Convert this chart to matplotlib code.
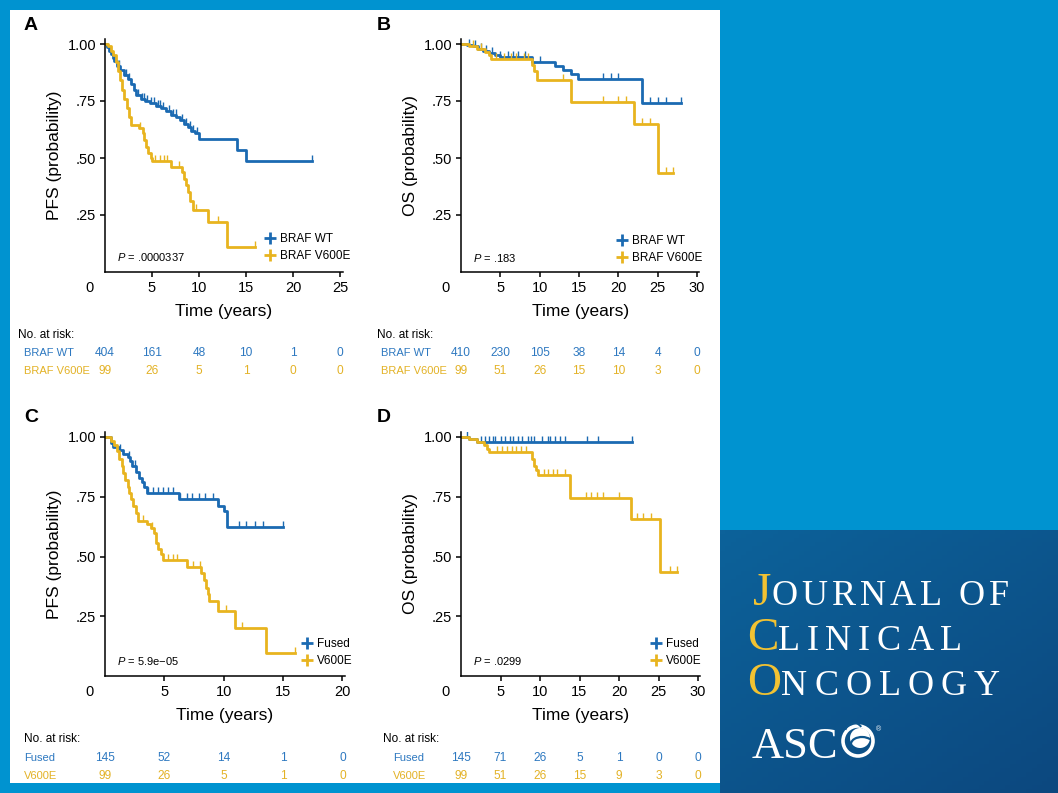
import numpy as np
import matplotlib
matplotlib.use("Agg")
import matplotlib.pyplot as plt
from matplotlib import transforms
from matplotlib.lines import Line2D
from matplotlib.patches import Rectangle, Circle, Arc

W, H = 1058, 793

BLUE = "#1b6ab2"
GOLD = "#e8b41f"
TXT_BLUE = "#2d78c0"
TXT_GOLD = "#e3b226"
BG_BLUE = "#0093d0"

# ---------------- data ----------------
# A: PFS, BRAF WT vs V600E
a_wt_t = [0, 0.2, 0.4, 0.6, 0.8, 1.0, 1.3, 1.6, 2.0, 2.4, 2.8, 3.1, 3.3, 3.8, 4.3, 4.8,
          5.4, 6.0, 6.5, 7.0, 7.6, 8.0, 8.4, 8.8, 9.2, 9.6, 10.0, 14.0, 15.0]
a_wt_s = [1.0, 0.985, 0.97, 0.955, 0.94, 0.925, 0.905, 0.885, 0.865, 0.845, 0.825, 0.80,
          0.775, 0.76, 0.75, 0.74, 0.73, 0.72, 0.705, 0.69, 0.68, 0.665, 0.65, 0.635, 0.62,
          0.61, 0.585, 0.535, 0.485]
a_wt_end = 22.0
a_wt_cens = [1.1, 1.5, 2.2, 2.6, 3.5, 3.9, 4.1, 4.5, 4.9, 5.2, 5.6, 5.9, 6.2, 6.8, 7.2,
             7.5, 8.2, 8.6, 9.0, 9.4, 9.8, 22.0]
a_mut_t = [0, 0.3, 0.6, 0.9, 1.2, 1.4, 1.6, 1.8, 2.0, 2.3, 2.6, 2.8, 3.6, 4.0, 4.2, 4.4,
           4.6, 4.9, 5.0, 7.0, 8.2, 8.4, 8.6, 8.8, 9.0, 9.4, 11.0, 13.0]
a_mut_s = [1.0, 0.99, 0.97, 0.95, 0.92, 0.88, 0.84, 0.80, 0.76, 0.72, 0.68, 0.645, 0.63,
           0.61, 0.58, 0.55, 0.52, 0.50, 0.485, 0.46, 0.44, 0.41, 0.38, 0.35, 0.31, 0.272,
           0.22, 0.11]
a_mut_end = 16.0
a_mut_cens = [3.7, 5.3, 5.8, 6.3, 6.6, 7.9, 9.7, 12.0, 16.0]

# B: OS, BRAF WT vs V600E
b_wt_t = [0, 0.8, 1.5, 2.2, 2.8, 3.5, 4.3, 5.0, 9.0, 12.0, 13.0, 14.0, 14.9, 23.0]
b_wt_s = [1.0, 0.995, 0.99, 0.98, 0.97, 0.96, 0.95, 0.945, 0.922, 0.905, 0.885, 0.867,
          0.847, 0.743]
b_wt_end = 28.0
b_wt_cens = [1.0, 1.8, 2.5, 3.2, 4.0, 5.0, 6.0, 6.6, 7.3, 8.1, 10.0, 18.0, 19.0, 20.0,
             24.0, 25.0, 26.0, 28.0]
b_mut_t = [0, 1.0, 2.0, 3.0, 3.5, 3.8, 9.0, 9.3, 9.7, 14.0, 22.0, 25.0]
b_mut_s = [1.0, 0.99, 0.98, 0.965, 0.95, 0.935, 0.91, 0.88, 0.84, 0.745, 0.65, 0.435]
b_mut_end = 27.0
b_mut_cens = [1.5, 2.5, 4.5, 5.5, 6.3, 7.0, 8.0, 8.5, 13.0, 18.0, 20.0, 21.0, 23.0, 24.0,
              26.0, 27.0]

# C: PFS, Fused vs V600E
c_fu_t = [0, 0.5, 0.7, 1.2, 1.5, 1.9, 2.1, 2.3, 2.6, 2.9, 3.1, 3.3, 3.5, 6.2, 9.5, 10.0, 10.25]
c_fu_s = [1.0, 0.975, 0.96, 0.945, 0.93, 0.915, 0.90, 0.88, 0.855, 0.83, 0.81, 0.79,
          0.765, 0.742, 0.71, 0.69, 0.623]
c_fu_end = 15.0
c_fu_cens = [1.3, 2.0, 2.5, 3.6, 4.05, 4.5, 4.9, 5.3, 5.75, 6.3, 6.9, 7.3, 7.9, 8.4, 9.1,
             9.55, 11.3, 11.9, 12.6, 13.3, 15.0]
c_mut_t = [0, 0.5, 0.8, 1.0, 1.2, 1.4, 1.5, 1.7, 1.9, 2.0, 2.2, 2.4, 2.6, 2.8, 3.5, 3.9,
           4.1, 4.3, 4.5, 4.7, 4.9, 6.9, 8.1, 8.3, 8.5, 8.7, 8.8, 9.5, 10.96, 13.55]
c_mut_s = [1.0, 0.985, 0.965, 0.94, 0.91, 0.88, 0.85, 0.82, 0.79, 0.765, 0.74, 0.71, 0.68,
           0.65, 0.635, 0.62, 0.60, 0.555, 0.53, 0.51, 0.485, 0.456, 0.43, 0.40, 0.37,
           0.345, 0.314, 0.272, 0.20, 0.098]
c_mut_end = 16.0
c_mut_cens = [3.2, 4.0, 5.3, 5.7, 6.1, 7.4, 8.0, 10.2, 11.5, 16.0]

# D: OS, Fused vs V600E
d_fu_t = [0, 1.0, 2.0]
d_fu_s = [1.0, 0.99, 0.979]
d_fu_end = 21.6
d_fu_cens = [0.8, 2.5, 3.0, 3.5, 4.0, 4.3, 5.0, 5.6, 6.2, 6.6, 7.2, 7.7, 8.5, 8.9, 9.2,
             10.2, 11.0, 11.3, 11.9, 12.5, 13.2, 15.9, 17.3, 21.6]
d_mut_t = [0, 1.0, 2.0, 2.9, 3.3, 3.6, 9.0, 9.3, 9.5, 9.8, 13.8, 21.5, 25.2]
d_mut_s = [1.0, 0.99, 0.98, 0.965, 0.95, 0.937, 0.91, 0.88, 0.86, 0.84, 0.746, 0.655, 0.435]
d_mut_end = 27.4
d_mut_cens = [4.5, 5.2, 5.8, 6.4, 7.0, 7.6, 8.2, 10.5, 11.0, 11.6, 12.2, 13.2, 15.8, 16.5,
              17.2, 18.0, 20.0, 22.3, 23.0, 24.0, 26.5, 27.4]

# numbers at risk
a_risk_t = [0, 5, 10, 15, 20, 25]
a_risk_wt = [404, 161, 48, 10, 1, 0]
a_risk_mut = [99, 26, 5, 1, 0, 0]
b_risk_t = [0, 5, 10, 15, 20, 25, 30]
b_risk_wt = [410, 230, 105, 38, 14, 4, 0]
b_risk_mut = [99, 51, 26, 15, 10, 3, 0]
c_risk_t = [0, 5, 10, 15, 20]
c_risk_fu = [145, 52, 14, 1, 0]
c_risk_mut = [99, 26, 5, 1, 0]
d_risk_t = [0, 5, 10, 15, 20, 25, 30]
d_risk_fu = [145, 71, 26, 5, 1, 0, 0]
d_risk_mut = [99, 51, 26, 15, 9, 3, 0]

plt.rcParams["font.family"] = ["Liberation Sans", "DejaVu Sans"]
plt.rcParams["mathtext.fontset"] = "custom"
plt.rcParams["mathtext.rm"] = "Liberation Sans"
plt.rcParams["mathtext.it"] = "Liberation Sans:italic"


def fx(px):
    return px / W


def fy(py):
    return 1 - py / H


def km(ax, t, s, t_end, cens, color):
    ax.step(list(t) + [t_end], list(s) + [s[-1]], where="post", color=color, lw=2.0)
    cy = [s[np.searchsorted(t, c, side="right") - 1] for c in cens]
    ax.plot(cens, cy, ls="none", marker=2, ms=4.5, mew=1.0, color=color)


fig = plt.figure(figsize=(W / 100, H / 100), dpi=100)
fig.patch.set_facecolor(BG_BLUE)
fig.patches.append(Rectangle((fx(10), fy(783)), fx(710), 773 / H, transform=fig.transFigure,
                             facecolor="white", edgecolor="none", zorder=-5))

# panel layout in px
panels = [
    dict(letter="A", lx=24, ly=25, left=105, bottom=272, ppy=9.4, ppu=228, xmax=25.3,
         xt=[5, 10, 15, 20, 25], ylab="PFS (probability)", pval=".0000337",
         names=["BRAF WT", "BRAF V600E"]),
    dict(letter="B", lx=377, ly=25, left=461, bottom=272, ppy=7.87, ppu=228, xmax=30.3,
         xt=[5, 10, 15, 20, 25, 30], ylab="OS (probability)", pval=".183",
         names=["BRAF WT", "BRAF V600E"]),
    dict(letter="C", lx=24, ly=418, left=105, bottom=676, ppy=11.87, ppu=239, xmax=20.2,
         xt=[5, 10, 15, 20], ylab="PFS (probability)", pval="5.9e\u221205",
         names=["Fused", "V600E"]),
    dict(letter="D", lx=377, ly=418, left=461, bottom=676, ppy=7.9, ppu=239, xmax=30.2,
         xt=[5, 10, 15, 20, 25, 30], ylab="OS (probability)", pval=".0299",
         names=["Fused", "V600E"]),
]
curves = [
    [(a_wt_t, a_wt_s, a_wt_end, a_wt_cens), (a_mut_t, a_mut_s, a_mut_end, a_mut_cens)],
    [(b_wt_t, b_wt_s, b_wt_end, b_wt_cens), (b_mut_t, b_mut_s, b_mut_end, b_mut_cens)],
    [(c_fu_t, c_fu_s, c_fu_end, c_fu_cens), (c_mut_t, c_mut_s, c_mut_end, c_mut_cens)],
    [(d_fu_t, d_fu_s, d_fu_end, d_fu_cens), (d_mut_t, d_mut_s, d_mut_end, d_mut_cens)],
]
risks = [
    (a_risk_t, a_risk_wt, a_risk_mut),
    (b_risk_t, b_risk_wt, b_risk_mut),
    (c_risk_t, c_risk_fu, c_risk_mut),
    (d_risk_t, d_risk_fu, d_risk_mut),
]
# text positions in px: header x, label x, header y, row ys, legend marker x/y, p-value x/y
text_pos = [
    dict(hx=18, rx=24, hy=335, r1=353, r2=371, lgx=270, lgy=238, px=117, py=257),
    dict(hx=377, rx=381, hy=335, r1=353, r2=371, lgx=622, lgy=240, px=473, py=258),
    dict(hx=24, rx=24, hy=739, r1=758, r2=776, lgx=307, lgy=643, px=117, py=661),
    dict(hx=383, rx=393, hy=739, r1=758, r2=776, lgx=656, lgy=643, px=473, py=661),
]

for p, cv, rk, tp in zip(panels, curves, risks, text_pos):
    ymax = 1.022
    wpx = p["xmax"] * p["ppy"]
    hpx = ymax * p["ppu"]
    ax = fig.add_axes([fx(p["left"]), fy(p["bottom"]), wpx / W, hpx / H])
    ax.set_facecolor("none")
    for (t, s, te, cs), col in zip(cv, [BLUE, GOLD]):
        km(ax, t, s, te, cs, col)
    ax.set_xlim(0, p["xmax"])
    ax.set_ylim(0, ymax)
    for sp in ["top", "right"]:
        ax.spines[sp].set_visible(False)
    for sp in ["left", "bottom"]:
        ax.spines[sp].set_linewidth(1.1)
    ax.set_xticks(p["xt"])
    ax.set_xticklabels([str(v) for v in p["xt"]])
    ax.set_yticks([0.25, 0.5, 0.75, 1.0])
    ax.set_yticklabels([".25", ".50", ".75", "1.00"])
    ax.tick_params(length=3.8, width=1.1, labelsize=10.5, pad=2.5)
    ax.set_ylabel(p["ylab"], fontsize=12.5)
    ax.yaxis.set_label_coords(-43 / wpx, 0.5)
    ax.set_xlabel("Time (years)", fontsize=12.5)
    ax.xaxis.set_label_coords(0.5, -32 / hpx)
    # origin label
    fig.text(fx(p["left"] - 15), fy(p["bottom"] + 16), "0", fontsize=10.5,
             ha="center", va="center")
    fig.text(fx(p["lx"]), fy(p["ly"]), p["letter"], fontsize=14, fontweight="bold",
             ha="left", va="center")

    # legend
    handles = [Line2D([], [], color=c, marker="+", ls="none", ms=9, mew=2)
               for c in [BLUE, GOLD]]
    ax.legend(handles, p["names"], loc="center left", frameon=False, fontsize=8.5,
              handlelength=1.0, handletextpad=0.35, labelspacing=0.45,
              borderpad=0, borderaxespad=0,
              bbox_to_anchor=((tp["lgx"] - 6 - p["left"]) / wpx,
                              (p["bottom"] - tp["lgy"] - 9.5) / hpx))
    ax.text((tp["px"] - p["left"]) / wpx, (p["bottom"] - tp["py"]) / hpx,
            "$\\it{P}$ = " + p["pval"], transform=ax.transAxes, fontsize=8,
            ha="left", va="center")

    # numbers at risk
    fig.text(fx(tp["hx"]), fy(tp["hy"]), "No. at risk:", fontsize=8.5, ha="left",
             va="center")
    blend = transforms.blended_transform_factory(ax.transData, fig.transFigure)
    rt, r1, r2 = rk
    for vals, ry, col, nm in [(r1, tp["r1"], TXT_BLUE, p["names"][0]),
                              (r2, tp["r2"], TXT_GOLD, p["names"][1])]:
        fig.text(fx(tp["rx"]), fy(ry), nm, fontsize=8.0, color=col, ha="left", va="center")
        for tx, v in zip(rt, vals):
            fig.text(tx, fy(ry), str(v), transform=blend, fontsize=8.6, color=col,
                     ha="center", va="center")

# ---------------- journal box ----------------
lax = fig.add_axes([fx(720), 0, 338 / W, 263 / H])
lax.set_xlim(720, 1058)
lax.set_ylim(793, 530)
lax.axis("off")
gy, gx = np.mgrid[0:1:64j, 0:1:64j]
g = 0.55 * gy + 0.45 * gx
c0 = np.array([0x0d, 0x62, 0x9a]) / 255
c1 = np.array([0x0c, 0x48, 0x7f]) / 255
img = c0[None, None, :] * (1 - g[..., None]) + c1[None, None, :] * g[..., None]
lax.imshow(img, extent=(720, 1058, 793, 530), aspect="auto", zorder=0)

LOGO_GOLD = "#f2c232"
SERIF = ["Liberation Serif", "DejaVu Serif"]
renderer = fig.canvas.get_renderer()


def caps_line(x, y, first, rest, x_end):
    t = lax.text(x, y, first, fontsize=34, color=LOGO_GOLD, family=SERIF, va="baseline")
    start = x + t.get_window_extent(renderer).width
    small = [lax.text(0, y, ch, fontsize=26, color="white", family=SERIF, va="baseline")
             for ch in rest]
    widths = [s.get_window_extent(renderer).width for s in small]
    track = (x_end - start - sum(widths)) / (len(rest) - 1)
    for s, w in zip(small, widths):
        s.set_x(start)
        start += w + track


caps_line(753, 605, "J", "OURNAL OF", 1009)
caps_line(747, 650, "C", "LINICAL", 962)
caps_line(747, 695, "O", "NCOLOGY", 1000)
lax.text(752, 758, "ASC", fontsize=32, color="white", family=SERIF, va="baseline")
lax.add_patch(Circle((858, 741), 15, fill=False, ec="white", lw=2.6))
lax.add_patch(Circle((860, 738), 10, fc="white", ec="none"))
lax.add_patch(Arc((862, 744), 22, 14, theta1=150, theta2=330, ec="#0d558c", lw=1.6))
lax.add_patch(Arc((854, 733), 18, 20, theta1=200, theta2=320, ec="#0d558c", lw=1.4))
lax.text(878, 730, "\u00ae", fontsize=5, color="white", ha="center", va="center")

fig.savefig("out.png", dpi=100, facecolor=fig.get_facecolor())
